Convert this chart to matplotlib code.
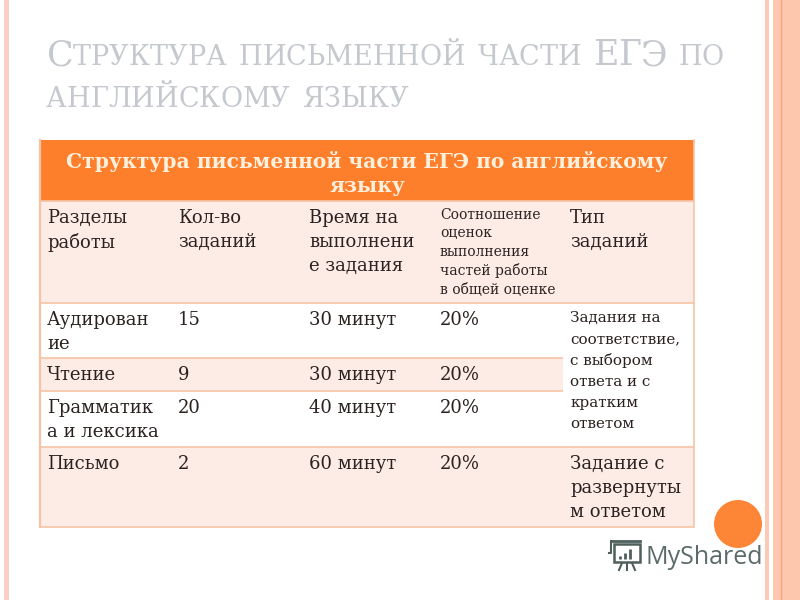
import matplotlib
matplotlib.use("Agg")
import matplotlib.pyplot as plt
from matplotlib.patches import Rectangle, Circle

title_lines = ["Структура письменной части ЕГЭ по", "английскому языку"]
table_title = "Структура письменной части ЕГЭ по английскому\nязыку"
col_edges = [40, 171, 302, 433, 563, 694]
row_edges = [201, 303, 358, 391, 447, 527]
row_fills = ["#fdece6", "#ffffff", "#fdece6", "#ffffff", "#fdece6"]
rows = [
    ["Разделы\nработы", "Кол-во\nзаданий", "Время на\nвыполнени\nе задания", None, "Тип\nзаданий"],
    ["Аудирован\nие", "15", "30 минут", "20%", None],
    ["Чтение", "9", "30 минут", "20%", None],
    ["Грамматик\nа и лексика", "20", "40 минут", "20%", None],
    ["Письмо", "2", "60 минут", "20%", "Задание с\nразвернуты\nм ответом"],
]
small_header = "Соотношение\nоценок\nвыполнения\nчастей работы\nв общей оценке"
merged_type = "Задания на\nсоответствие,\nс выбором\nответа и с\nкратким\nответом"

SERIF = "DejaVu Serif"
TXT = "#2b2220"
EDGE = "#f6c3a6"

fig = plt.figure(figsize=(8, 6), dpi=100)
ax = fig.add_axes([0, 0, 1, 1])
ax.set_xlim(0, 800); ax.set_ylim(600, 0); ax.axis("off")

# side stripes
ax.add_patch(Rectangle((4, 0), 5, 600, fc="#fccfc6", ec="none"))
ax.add_patch(Rectangle((765, 0), 4, 600, fc="#fcc9b5", ec="none"))
ax.add_patch(Rectangle((773, 0), 27, 600, fc="#fdc7ae", ec="none"))
ax.plot([781, 781], [0, 600], color="#f0a58c", lw=1)

# title in small caps style
def smallcaps(x, y, s):
    cur = x
    r = fig.canvas.get_renderer()
    for word in s.split(" "):
        for ch in word:
            big = ch.isupper()
            t = ax.text(cur, y, ch.upper(), family="DejaVu Serif", fontsize=25 if big else 19.5,
                        color="#c5c9ce", va="baseline", ha="left")
            cur += t.get_window_extent(r).width * (0.97 if big else 1.0)
        cur += 12
smallcaps(47, 65, title_lines[0])
smallcaps(46, 107, title_lines[1])

# header
ax.add_patch(Rectangle((40, 140), 654, 61, fc="#fd7f2c", ec="none"))
ax.text(367, 173, table_title, family=SERIF, weight="bold", fontsize=14.6, color="#fdf0dc",
        ha="center", va="center", linespacing=1.25)

# body rows
for i, fill in enumerate(row_fills):
    ax.add_patch(Rectangle((40, row_edges[i]), 654, row_edges[i+1]-row_edges[i], fc=fill, ec="none"))
ax.add_patch(Rectangle((563, 303), 131, 144, fc="#ffffff", ec="none"))
for i, y in enumerate(row_edges):
    x_end = col_edges[4] if y in (358, 391) else 694
    ax.plot([40, x_end], [y, y], color=EDGE, lw=1.2, solid_capstyle="butt")
ax.plot([40, 40], [140, 527], color=EDGE, lw=1.6)
ax.plot([694, 694], [140, 527], color=EDGE, lw=1.2)

# cell text
for i, row in enumerate(rows):
    for j, cell in enumerate(row):
        if cell:
            ax.text(col_edges[j] + 7, row_edges[i] + 8, cell, family=SERIF, fontsize=13,
                    color=TXT, va="top", ha="left", linespacing=1.42)
ax.text(440, 208, small_header, family=SERIF, fontsize=10, color=TXT, va="top", linespacing=1.39)
ax.text(570, 311, merged_type, family=SERIF, fontsize=10.9, color=TXT, va="top", linespacing=1.63)

# orange dot and watermark
ax.add_patch(Circle((738, 524), 24, fc="#fd8536", ec="none"))
ax.text(646, 564, "MyShared", family="Open Sans", fontsize=18, color="#5d6a6a", va="baseline")
LOGO = "#4f5f5c"
ax.add_patch(Rectangle((614, 544), 26, 18, fc="none", ec=LOGO, lw=1.8))
ax.plot([611, 640], [541, 541], color=LOGO, lw=2)
ax.plot([609, 611, 611], [553, 553, 541], color=LOGO, lw=1.5)
for bx, bh in zip([620, 625, 630], [3, 6, 10]):
    ax.plot([bx, bx], [559, 559 - bh], color=LOGO, lw=2, solid_capstyle="butt")
for x0, x1 in [(622, 619), (627, 627), (632, 635)]:
    ax.plot([x0, x1], [563, 570], color=LOGO, lw=1.5)

fig.savefig("out.png", dpi=100)
